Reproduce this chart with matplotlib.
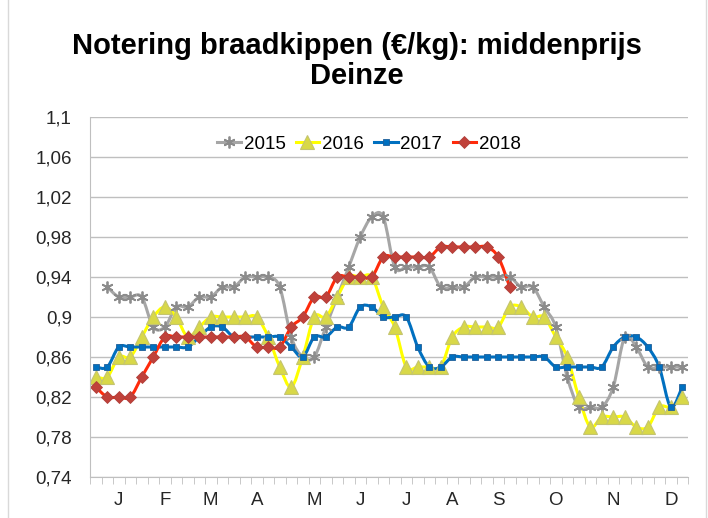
import matplotlib
matplotlib.use("Agg")
import matplotlib.pyplot as plt
import matplotlib.ticker as ticker
from matplotlib.path import Path
from matplotlib.patches import PathPatch
from matplotlib.lines import Line2D
import numpy as np

# weekly quotations
months = ["J", "F", "M", "A", "M", "J", "J", "A", "S", "O", "N", "D"]
month_weeks = [2, 6, 10, 14, 19, 23, 27, 31, 35, 40, 45, 50]
n_weeks = 52

prices_2015 = [None,
               0.93, 0.92, 0.92, 0.92, 0.89, 0.89, 0.91, 0.91, 0.92, 0.92,
               0.93, 0.93, 0.94, 0.94, 0.94, 0.93, 0.88, 0.86, 0.86, 0.89,
               0.92, 0.95, 0.98, 1.00, 1.00, 0.95, 0.95, 0.95, 0.95, 0.93,
               0.93, 0.93, 0.94, 0.94, 0.94, 0.94, 0.93, 0.93, 0.91, 0.89,
               0.84, 0.81, 0.81, 0.81, 0.83, 0.88, 0.87, 0.85, 0.85, 0.85,
               0.85]
prices_2016 = [0.84, 0.84, 0.86, 0.86, 0.88, 0.90, 0.91, 0.90, 0.88, 0.89,
               0.90, 0.90, 0.90, 0.90, 0.90, 0.88, 0.85, 0.83, 0.86, 0.90,
               0.90, 0.92, 0.94, 0.94, 0.94, 0.91, 0.89, 0.85, 0.85, 0.85,
               0.85, 0.88, 0.89, 0.89, 0.89, 0.89, 0.91, 0.91, 0.90, 0.90,
               0.88, 0.86, 0.82, 0.79, 0.80, 0.80, 0.80, 0.79, 0.79, 0.81,
               0.81, 0.82]
prices_2017 = [0.85, 0.85, 0.87, 0.87, 0.87, 0.87, 0.87, 0.87, 0.87, 0.88,
               0.89, 0.89, 0.88, 0.88, 0.88, 0.88, 0.88, 0.87, 0.86, 0.88,
               0.88, 0.89, 0.89, 0.91, 0.91, 0.90, 0.90, 0.90, 0.87, 0.85,
               0.85, 0.86, 0.86, 0.86, 0.86, 0.86, 0.86, 0.86, 0.86, 0.86,
               0.85, 0.85, 0.85, 0.85, 0.85, 0.87, 0.88, 0.88, 0.87, 0.85,
               0.81, 0.83]
prices_2018 = [0.83, 0.82, 0.82, 0.82, 0.84, 0.86, 0.88, 0.88, 0.88, 0.88,
               0.88, 0.88, 0.88, 0.88, 0.87, 0.87, 0.87, 0.89, 0.90, 0.92,
               0.92, 0.94, 0.94, 0.94, 0.94, 0.96, 0.96, 0.96, 0.96, 0.96,
               0.97, 0.97, 0.97, 0.97, 0.97, 0.96, 0.93]


def smooth_path(x, y):
    """Bezier curve through the points, like Excel's smoothed line."""
    pts = np.column_stack([x, y]).astype(float)
    n = len(pts)
    verts = [pts[0]]
    codes = [Path.MOVETO]
    for i in range(n - 1):
        p0 = pts[max(i - 1, 0)]
        p1 = pts[i]
        p2 = pts[i + 1]
        p3 = pts[min(i + 2, n - 1)]
        verts += [p1 + (p2 - p0) / 6, p2 - (p3 - p1) / 6, p2]
        codes += [Path.CURVE4] * 3
    return Path(verts, codes)


def comma_formatter(v, pos) -> str:
    return f"{v:g}".replace(".", ",")


def main():
    plt.rcParams["font.family"] = ["Liberation Sans", "DejaVu Sans"]
    fig = plt.figure(figsize=(7.08, 5.18), dpi=100)
    ax = fig.add_axes([90 / 708, 41 / 518, 598 / 708, 360 / 518])

    styles = [
        ("2015", prices_2015, "#A6A6A6",
         dict(marker=(6, 2, 0), ms=8.5, mec="#8C8C8C", mfc="#8C8C8C", mew=1.3)),
        ("2016", prices_2016, "#FFFF00",
         dict(marker="^", ms=10, mfc="#D8D848", mec="#C4C470", mew=0.8)),
        ("2017", prices_2017, "#0070C0",
         dict(marker="s", ms=5, mfc="#0070C0", mec="#1F5F99", mew=0.6)),
        ("2018", prices_2018, "#FF2A0A",
         dict(marker="D", ms=6.5, mfc="#C0413A", mec="#B0403A", mew=0.6)),
    ]

    handles = []
    for label, values, color, mk in styles:
        x = [i for i, v in enumerate(values) if v is not None]
        y = [v for v in values if v is not None]
        ax.add_patch(PathPatch(smooth_path(x, y), fill=False,
                               edgecolor=color, lw=2.2,
                               capstyle="round", joinstyle="round"))
        ax.plot(x, y, linestyle="none", **mk)
        handles.append(Line2D([], [], color=color, lw=2.2, **mk))

    ax.set_xlim(-0.5, n_weeks - 0.5)
    ax.set_ylim(0.74, 1.1)
    ax.set_yticks(np.arange(0.74, 1.101, 0.04))
    ax.yaxis.set_major_formatter(ticker.FuncFormatter(comma_formatter))
    ax.set_xticks(month_weeks)
    ax.set_xticklabels(months)
    ax.set_xticks(np.arange(-0.5, n_weeks, 1), minor=True)
    ax.tick_params(axis="x", which="major", length=0, pad=11, labelsize=13.5,
                   colors="#262626")
    ax.tick_params(axis="x", which="minor", length=5, color="#BFBFBF")
    ax.tick_params(axis="y", length=0, pad=13, labelsize=13.5,
                   colors="#262626")

    ax.grid(axis="y", color="#BFBFBF", lw=1)
    ax.set_axisbelow(True)
    for side in ["top", "right"]:
        ax.spines[side].set_visible(False)
    for side in ["left", "bottom"]:
        ax.spines[side].set_color("#BFBFBF")

    fig.legend(handles, ["2015", "2016", "2017", "2018"], ncol=4,
               loc="center", bbox_to_anchor=(369 / 708, 1 - 144 / 518),
               frameon=False, fontsize=13.5, handlelength=1.25,
               handletextpad=0.15, columnspacing=0.55)

    fig.text(357 / 708, 1 - 61 / 518,
             "Notering braadkippen (€/kg): middenprijs\nDeinze",
             ha="center", va="center", fontsize=21, fontweight="bold",
             linespacing=1.12, color="#000000")

    # chart area frame, cut off at top and bottom in the screenshot
    for xf in [7.5 / 708, 705.5 / 708]:
        fig.add_artist(Line2D([xf, xf], [0, 1], color="#D9D9D9", lw=1))

    fig.savefig("out.png", dpi=100)


if __name__ == "__main__":
    main()
